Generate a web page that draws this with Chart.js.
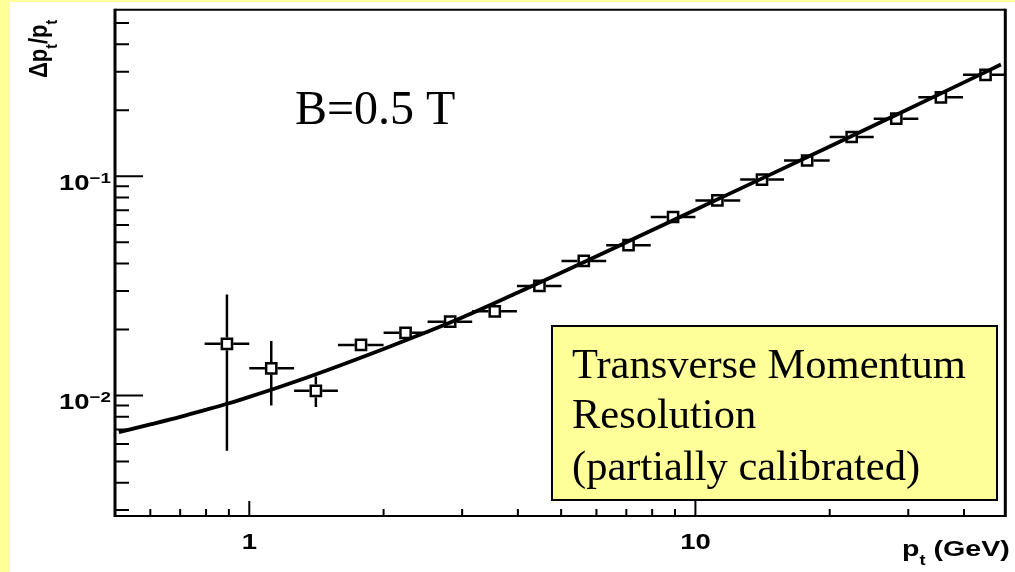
<!DOCTYPE html>
<html>
<head>
<meta charset="utf-8">
<script src="https://cdn.jsdelivr.net/npm/chart.js@4.4.1/dist/chart.umd.min.js"></script>
<style>
  html, body { margin: 0; padding: 0; background: #ffffff; }
  #wrap { width: 1015px; height: 572px; }
</style>
</head>
<body>
<div id="wrap"><canvas id="res" width="1015" height="572"></canvas></div>
<script>
// ── measured points: bin centre, bin edges, resolution and its error ──────────
var ptVals = [0.891, 1.12, 1.41, 1.78, 2.24, 2.82, 3.55, 4.47, 5.62, 7.08, 8.91, 11.2, 14.1, 17.8, 22.4, 28.2, 35.5, 44.7];
var ptLo   = [0.794, 1.0, 1.26, 1.58, 2.0, 2.51, 3.16, 3.98, 5.01, 6.31, 7.94, 10.0, 12.6, 15.8, 20.0, 25.1, 31.6, 39.8];
var ptHi   = [1.0, 1.26, 1.58, 2.0, 2.51, 3.16, 3.98, 5.01, 6.31, 7.94, 10.0, 12.6, 15.8, 20.0, 25.1, 31.6, 39.8, 50.1];
var resVals = [0.0172, 0.0133, 0.0105, 0.0170, 0.0193, 0.0217, 0.0242, 0.0316, 0.0411, 0.0485, 0.0652, 0.0776, 0.0966, 0.118, 0.151, 0.183, 0.229, 0.290];
var resLo   = [0.0056, 0.0090, 0.00885, 0.0163, 0.0185, 0.0208, 0.0232, 0.0303, 0.0395, 0.0466, 0.0626, 0.0745, 0.0927, 0.113, 0.145, 0.176, 0.220, 0.278];
var resHi   = [0.0289, 0.0177, 0.0122, 0.0177, 0.0201, 0.0226, 0.0252, 0.0329, 0.0427, 0.0504, 0.0678, 0.0807, 0.1005, 0.123, 0.157, 0.190, 0.238, 0.302];

// ── fit curve samples ─────────────────────────────────────────────────────────
var fitPt  = [0.51, 0.6, 0.7, 0.8, 0.9, 1.0, 1.2, 1.5, 2.0, 2.5, 3.0, 4.0, 5.0, 7.0, 10, 14, 20, 28, 38, 48.4];
var fitRes = [0.0068, 0.00738, 0.00799, 0.00861, 0.00922, 0.00986, 0.01114, 0.01308, 0.0163, 0.01949, 0.02269, 0.02949, 0.03628, 0.04995, 0.07036, 0.0970, 0.1366, 0.1893, 0.2549, 0.3231];

// ── axis ticks ────────────────────────────────────────────────────────────────
var xMajor = [1, 10];
var xMinor = [0.6, 0.7, 0.8, 0.9, 2, 3, 4, 5, 6, 7, 8, 9, 20, 30, 40];
var xLabels = ["1", "10"];
var yMajor = [0.01, 0.1];
var yMinor = [0.003, 0.004, 0.005, 0.006, 0.007, 0.008, 0.009, 0.02, 0.03, 0.04, 0.05, 0.06, 0.07, 0.08, 0.09, 0.2, 0.3, 0.4, 0.5];
var yExp = ["\u22122", "\u22121"];

var boxLines = ["Transverse Momentum", "Resolution", "(partially calibrated)"];

var MARK_HALF = 6.3;
var AX_FONT = "bold 22px 'Liberation Sans', Arial, sans-serif";
var AX_SMALL = "bold 15px 'Liberation Sans', Arial, sans-serif";
var SUB_FONT = "bold 14px 'Liberation Sans', Arial, sans-serif";

// draws a run of text pieces ({t, font, dy}) starting at x, stretched horizontally by sx
function drawRun(ctx, parts, x, y, sx) {
  ctx.save();
  ctx.translate(x, y);
  ctx.scale(sx, 1);
  var cx = 0;
  parts.forEach(function(p) {
    ctx.font = p.font;
    ctx.fillText(p.t, cx, p.dy || 0);
    cx += ctx.measureText(p.t).width;
  });
  ctx.restore();
}

function runWidth(ctx, parts, sx) {
  var w = 0;
  ctx.save();
  parts.forEach(function(p) { ctx.font = p.font; w += ctx.measureText(p.t).width; });
  ctx.restore();
  return w * sx;
}

var pagePlugin = {
  id: "page",
  beforeDraw: function(chart) {
    var ctx = chart.ctx;
    ctx.save();
    ctx.fillStyle = "#ffffff";
    ctx.fillRect(0, 0, chart.width, chart.height);
    ctx.fillStyle = "#ffff99";
    ctx.fillRect(0, 0, 10, chart.height);
    ctx.fillRect(0, 0, chart.width, 2);
    ctx.restore();
  }
};

// horizontal = bin width, vertical = error; both stop at the marker edge
var errorBarsPlugin = {
  id: "errorBars",
  beforeDatasetsDraw: function(chart) {
    var ctx = chart.ctx, xs = chart.scales.x, ys = chart.scales.y, a = chart.chartArea;
    var h = MARK_HALF;
    ctx.save();
    ctx.beginPath();
    ctx.rect(a.left, a.top, a.right - a.left, a.bottom - a.top);
    ctx.clip();
    ctx.strokeStyle = "#000000";
    ctx.lineWidth = 2.5;
    ptVals.forEach(function(p, i) {
      var cx = xs.getPixelForValue(p), cy = ys.getPixelForValue(resVals[i]);
      var x0 = xs.getPixelForValue(ptLo[i]), x1 = xs.getPixelForValue(ptHi[i]);
      var yTop = ys.getPixelForValue(resHi[i]), yBot = ys.getPixelForValue(resLo[i]);
      ctx.beginPath();
      if (x0 < cx - h) { ctx.moveTo(x0, cy); ctx.lineTo(cx - h, cy); }
      if (x1 > cx + h) { ctx.moveTo(cx + h, cy); ctx.lineTo(x1, cy); }
      if (yTop < cy - h) { ctx.moveTo(cx, yTop); ctx.lineTo(cx, cy - h); }
      if (yBot > cy + h) { ctx.moveTo(cx, cy + h); ctx.lineTo(cx, yBot); }
      ctx.stroke();
    });
    ctx.restore();
  }
};

// frame, inward ticks, tick labels, axis titles, annotations
var framePlugin = {
  id: "frame",
  afterDraw: function(chart) {
    var ctx = chart.ctx, xs = chart.scales.x, ys = chart.scales.y, a = chart.chartArea;
    ctx.save();
    ctx.strokeStyle = "#000000";
    ctx.lineCap = "butt";

    // frame
    ctx.lineWidth = 2;
    ctx.beginPath();
    ctx.moveTo(a.left, a.top); ctx.lineTo(a.right, a.top);
    ctx.moveTo(a.left, a.bottom); ctx.lineTo(a.right, a.bottom);
    ctx.stroke();
    ctx.lineWidth = 3;
    ctx.beginPath();
    ctx.moveTo(a.left, a.top - 1); ctx.lineTo(a.left, a.bottom + 1);
    ctx.moveTo(a.right, a.top - 1); ctx.lineTo(a.right, a.bottom + 1);
    ctx.stroke();

    // y ticks
    ctx.lineWidth = 2;
    ctx.beginPath();
    yMajor.forEach(function(v) { var y = ys.getPixelForValue(v); ctx.moveTo(a.left, y); ctx.lineTo(a.left + 28, y); });
    yMinor.forEach(function(v) { var y = ys.getPixelForValue(v); ctx.moveTo(a.left, y); ctx.lineTo(a.left + 14, y); });
    // x ticks
    xMajor.forEach(function(v) { var x = xs.getPixelForValue(v); ctx.moveTo(x, a.bottom); ctx.lineTo(x, a.bottom - 15); });
    xMinor.forEach(function(v) { var x = xs.getPixelForValue(v); ctx.moveTo(x, a.bottom); ctx.lineTo(x, a.bottom - 7); });
    ctx.stroke();

    ctx.fillStyle = "#000000";
    ctx.textBaseline = "alphabetic";
    ctx.textAlign = "left";

    // y tick labels 10^-n
    yMajor.forEach(function(v, i) {
      var y = ys.getPixelForValue(v);
      var parts = [{ t: "10", font: AX_FONT }, { t: yExp[i], font: AX_SMALL, dy: -7 }];
      var w = runWidth(ctx, parts, 1.25);
      drawRun(ctx, parts, a.left - 4 - w, y + 13.5, 1.25);
    });

    // x tick labels
    xMajor.forEach(function(v, i) {
      var x = xs.getPixelForValue(v);
      var parts = [{ t: xLabels[i], font: AX_FONT }];
      var w = runWidth(ctx, parts, 1.25);
      drawRun(ctx, parts, x - w / 2, 549, 1.25);
    });

    // x title p_t (GeV)
    drawRun(ctx, [
      { t: "p", font: AX_FONT },
      { t: "t", font: SUB_FONT, dy: 9 },
      { t: " (GeV)", font: AX_FONT }
    ], 902, 556, 1.3);

    // y title Δp_t/p_t, rotated
    ctx.save();
    ctx.translate(47, 78);
    ctx.rotate(-Math.PI / 2);
    ctx.scale(1, 1.2);
    ctx.textAlign = "left";
    drawRun(ctx, [
      { t: "\u0394p", font: AX_FONT },
      { t: "t", font: SUB_FONT, dy: 8 },
      { t: "/p", font: AX_FONT },
      { t: "t", font: SUB_FONT, dy: 8 }
    ], 0, 0, 1);
    ctx.restore();

    // field label
    ctx.font = "48px 'Liberation Serif', 'Times New Roman', serif";
    ctx.fillText("B=0.5 T", 295, 124);

    // legend box
    ctx.fillStyle = "#ffff99";
    ctx.fillRect(552, 326, 445, 174);
    ctx.lineWidth = 2;
    ctx.strokeRect(552, 326, 445, 174);
    ctx.fillStyle = "#000000";
    ctx.font = "42.5px 'Liberation Serif', 'Times New Roman', serif";
    var base = [378, 428, 480];
    boxLines.forEach(function(s, i) { ctx.fillText(s, 572, base[i]); });

    ctx.restore();
  }
};

var fitData = fitPt.map(function(p, i) { return { x: p, y: fitRes[i] }; });
var ptData  = ptVals.map(function(p, i) { return { x: p, y: resVals[i] }; });

new Chart(document.getElementById("res"), {
  type: "scatter",
  data: {
    datasets: [
      {
        type: "line", label: "fit", data: fitData,
        borderColor: "#000000", borderWidth: 3.8,
        pointRadius: 0, fill: false,
        cubicInterpolationMode: "monotone",
        order: 0
      },
      {
        type: "scatter", label: "data", data: ptData,
        pointStyle: "rect", pointRadius: 7.2,
        pointBorderWidth: 2.5, pointBorderColor: "#000000",
        pointBackgroundColor: "rgba(255,255,255,0)",
        order: 1
      }
    ]
  },
  options: {
    responsive: false,
    animation: false,
    devicePixelRatio: 1,
    events: [],
    layout: { padding: { left: 115, top: 8, right: 5, bottom: 56 } },
    plugins: { legend: { display: false }, tooltip: { enabled: false } },
    scales: {
      x: { type: "logarithmic", min: 0.5, max: 49.5, display: false },
      y: { type: "logarithmic", min: 0.00282, max: 0.575, display: false }
    }
  },
  plugins: [pagePlugin, errorBarsPlugin, framePlugin]
});
</script>
</body>
</html>
